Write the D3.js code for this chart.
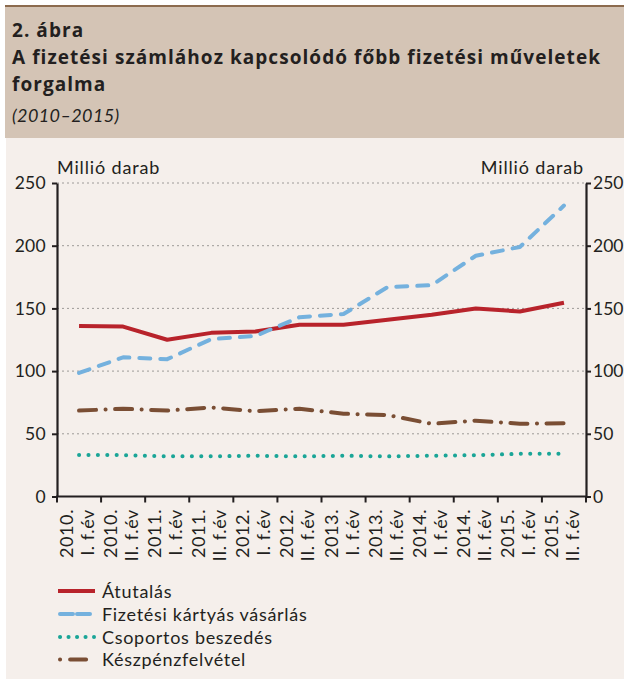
<!DOCTYPE html>
<html>
<head>
<meta charset="utf-8">
<script src="https://cdn.jsdelivr.net/npm/d3@7"></script>
<style>
  html, body { margin: 0; padding: 0; background: #ffffff; }
  svg { display: block; font-family: Lato, "Noto Sans", sans-serif; }
</style>
</head>
<body>
<svg id="chart" width="624" height="679"></svg>
<script>
// Period labels (two lines each)
var labelYears  = ["2010.", "2010.", "2011.", "2011.", "2012.", "2012.", "2013.", "2013.", "2014.", "2014.", "2015.", "2015."];
var labelHalves = ["I. f.év", "II. f.év", "I. f.év", "II. f.év", "I. f.év", "II. f.év", "I. f.év", "II. f.év", "I. f.év", "II. f.év", "I. f.év", "II. f.év"];

// Millió darab
var atutalas   = [136, 135.5, 125, 130.5, 131.5, 137, 137, 141, 145, 150, 147.5, 154.5];
var kartya     = [98.5, 111, 109.5, 125.5, 128, 143, 145.5, 167, 168.5, 192, 199, 232];
var csoportos  = [33, 33, 32, 32, 32.5, 32, 32.5, 32, 32.5, 33, 34, 34];
var keszpenz   = [68.5, 70, 68.5, 71, 68, 70, 66, 65, 58, 60.5, 58, 58.5];

var yTicks = [0, 50, 100, 150, 200, 250];

var seriesNames = ["Átutalás", "Fizetési kártyás vásárlás", "Csoportos beszedés", "Készpénzfelvétel"];

function Draw() {
    var svg = d3.select("#chart");
    var ink = "#231f20";

    // Header and body panels
    svg.append("rect").attr("x", 6).attr("y", 138).attr("width", 618).attr("height", 541).attr("fill", "#f5efeb");
    svg.append("rect").attr("x", 5).attr("y", 7).attr("width", 619).attr("height", 131).attr("fill", "#d4c4b5");
    svg.append("rect").attr("x", 5).attr("y", 5).attr("width", 619).attr("height", 2).attr("fill", "#8c6b4e");

    // Title block
    var t1 = svg.append("text").attr("x", 12).attr("y", 36.5)
       .style("font-family", "'Open Sans'").style("font-weight", "bold").style("font-size", "19px").style("fill", ink)
       .text("2. ábra");
    var t2 = svg.append("text").attr("x", 12).attr("y", 64)
       .style("font-family", "'Open Sans'").style("font-weight", "bold").style("font-size", "19px").style("fill", ink)
       .text("A fizetési számlához kapcsolódó főbb fizetési műveletek");
    var t3 = svg.append("text").attr("x", 12).attr("y", 91)
       .style("font-family", "'Open Sans'").style("font-weight", "bold").style("font-size", "19px").style("fill", ink)
       .text("forgalma");
    // stretch the long title line to the width it has in the original
    var spacing = (589 - t2.node().getComputedTextLength()) / t2.text().length;
    [t1, t2, t3].forEach(function(t) { t.style("letter-spacing", spacing + "px"); });

    svg.append("text").attr("x", 12).attr("y", 121.5)
       .style("font-style", "italic").style("font-size", "18px").style("letter-spacing", "0.4px").style("fill", ink)
       .text("(2010–2015)");

    var plot = {left: 57, right: 586, top: 183, bottom: 496.5};
    var idx = d3.range(labelYears.length);

    var x = d3.scaleBand().domain(idx).range([plot.left, plot.right]).padding(0);
    var y = d3.scaleLinear().domain([0, 250]).range([plot.bottom, plot.top]);
    var cx = function(i) { return x(i) + x.bandwidth() / 2; };

    // Gridlines
    svg.append("g").selectAll("line").data(yTicks.filter(function(d) { return d > 0; })).enter()
       .append("line")
       .attr("x1", plot.left).attr("x2", plot.right)
       .attr("y1", function(d) { return y(d); }).attr("y2", function(d) { return y(d); })
       .attr("stroke", "#9d9a98").attr("stroke-width", 1).attr("stroke-dasharray", "2,3");

    // Y axes
    var leftAxis = svg.append("g")
       .attr("transform", "translate(" + plot.left + ",0)")
       .call(d3.axisLeft(y).tickValues(yTicks).tickSize(5).tickPadding(6).tickSizeOuter(0));
    var rightAxis = svg.append("g")
       .attr("transform", "translate(" + plot.right + ",0)")
       .call(d3.axisRight(y).tickValues(yTicks).tickSize(5).tickPadding(2).tickSizeOuter(0));
    [leftAxis, rightAxis].forEach(function(a) {
        a.select(".domain").attr("stroke", ink).attr("stroke-width", 2.2);
        a.selectAll(".tick line").attr("stroke", ink).attr("stroke-width", 2);
        a.selectAll(".tick text").style("font-family", "Lato").style("font-size", "17.5px").attr("fill", ink);
    });
    leftAxis.selectAll(".tick text").style("letter-spacing", "0.3px");

    // X axis: line, ticks at band edges, two-line rotated labels
    var edges = idx.map(function(i) { return x(i); }).concat([plot.right]);
    svg.append("line").attr("x1", plot.left - 1).attr("x2", plot.right + 1)
       .attr("y1", plot.bottom).attr("y2", plot.bottom)
       .attr("stroke", ink).attr("stroke-width", 2.2);
    svg.append("g").selectAll("line").data(edges).enter().append("line")
       .attr("x1", function(d) { return d; }).attr("x2", function(d) { return d; })
       .attr("y1", plot.bottom).attr("y2", plot.bottom + 6)
       .attr("stroke", ink).attr("stroke-width", 2);

    var lbl = svg.append("g").selectAll("g").data(idx).enter().append("g")
       .attr("transform", function(i) { return "translate(" + cx(i) + "," + 509 + ") rotate(-90)"; });
    lbl.append("text").attr("x", 0).attr("y", -6).attr("text-anchor", "end")
       .style("font-size", "18px").style("letter-spacing", "0.6px").style("fill", ink)
       .text(function(i) { return labelYears[i]; });
    lbl.append("text").attr("x", 0).attr("y", 15).attr("text-anchor", "end")
       .style("font-size", "18px").style("letter-spacing", "0.6px").style("fill", ink)
       .text(function(i) { return labelHalves[i]; });

    // Unit labels
    svg.append("text").attr("x", 57).attr("y", 174)
       .style("font-size", "18px").style("letter-spacing", "0.85px").style("fill", ink).text("Millió darab");
    svg.append("text").attr("x", 584).attr("y", 174).attr("text-anchor", "end")
       .style("font-size", "18px").style("letter-spacing", "0.85px").style("fill", ink).text("Millió darab");

    // Series
    var series = [
        {name: seriesNames[0], values: atutalas,  color: "#b8232b", dash: null,             cap: "butt"},
        {name: seriesNames[1], values: kartya,    color: "#74b1de", dash: "11,10",          cap: "round"},
        {name: seriesNames[2], values: csoportos, color: "#1aa597", dash: "0.1,9.3",        cap: "round"},
        {name: seriesNames[3], values: keszpenz,  color: "#7a4e34", dash: "17,9.5,0.1,9.5", cap: "round"}
    ];

    var line = d3.line()
       .x(function(d, i) { return cx(i); })
       .y(function(d) { return y(d); });

    series.forEach(function(s) {
        svg.append("path")
           .datum(s.values)
           .attr("d", line)
           .attr("fill", "none")
           .attr("stroke", s.color)
           .attr("stroke-width", 4)
           .attr("stroke-linecap", s.cap)
           .attr("stroke-linejoin", "round")
           .attr("stroke-dasharray", s.dash);
    });

    // Legend
    var legendRows = [591, 614, 637, 659.5];
    var leg = svg.append("g").selectAll("g").data(series).enter().append("g")
       .attr("transform", function(d, i) { return "translate(0," + legendRows[i] + ")"; });
    leg.append("line")
       .attr("x1", function(d) { return d.cap == "round" ? 60 : 58; })
       .attr("x2", function(d) { return d.cap == "round" ? 94 : 95; })
       .attr("y1", 0).attr("y2", 0)
       .attr("stroke", function(d) { return d.color; })
       .attr("stroke-width", 4)
       .attr("stroke-linecap", function(d) { return d.cap; })
       .attr("stroke-dasharray", function(d) {
           if (d.name == seriesNames[1]) return "13,4";
           if (d.name == seriesNames[2]) return "0.1,8.4";
           if (d.name == seriesNames[3]) return "0.1,10,16,10";
           return null;
       });
    leg.append("text").attr("x", 102).attr("y", 6.5)
       .style("font-size", "18px").style("letter-spacing", "0.7px").style("fill", ink)
       .text(function(d) { return d.name; });
}

Draw();
</script>
</body>
</html>
